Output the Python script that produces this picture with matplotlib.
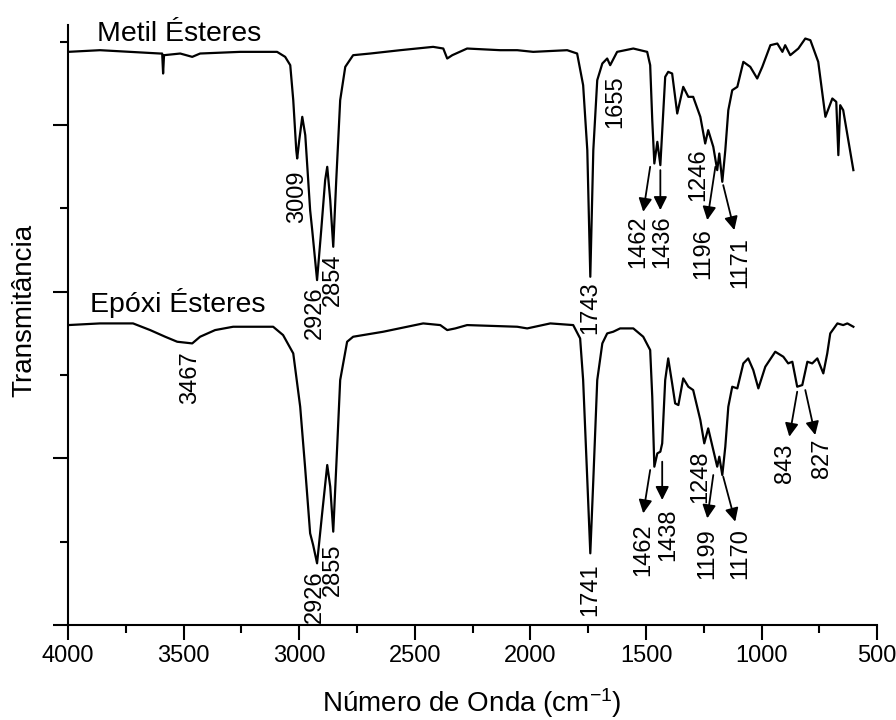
import numpy as np
import matplotlib
matplotlib.use('Agg')
import matplotlib.pyplot as plt

plt.rcParams['font.family'] = ['Liberation Sans', 'DejaVu Sans']
plt.rcParams['mathtext.default'] = 'regular'

# espectro metil ésteres (número de onda, transmitância)
metil_x = [4000, 3862, 3732, 3602, 3593, 3589, 3585, 3515, 3463, 3429, 3256, 3096, 3061,
           3039, 3026, 3013, 3009, 3000, 2987, 2974, 2953, 2944, 2923, 2905, 2888, 2879,
           2866, 2853, 2840, 2823, 2801, 2767, 2693, 2563, 2421, 2377, 2360, 2338, 2274,
           2131, 2057, 1988, 1841, 1798, 1772, 1754, 1741, 1728, 1711, 1689, 1668, 1655,
           1625, 1555, 1495, 1482, 1473, 1464, 1451, 1438, 1417, 1404, 1387, 1365, 1339,
           1317, 1296, 1265, 1244, 1231, 1209, 1192, 1183, 1170, 1157, 1144, 1127, 1105,
           1079, 1049, 1019, 997, 962, 932, 910, 898, 876, 841, 811, 789, 755, 724, 694,
           677, 668, 660, 647, 603]
metil_y = [3.44, 3.45, 3.44, 3.43, 3.43, 3.31, 3.42, 3.43, 3.41, 3.43, 3.44, 3.44, 3.41,
           3.36, 3.15, 2.85, 2.80, 2.91, 3.05, 2.94, 2.49, 2.37, 2.07, 2.37, 2.67, 2.75,
           2.55, 2.27, 2.67, 3.15, 3.35, 3.42, 3.43, 3.45, 3.47, 3.46, 3.40, 3.42, 3.46,
           3.45, 3.45, 3.44, 3.45, 3.43, 3.24, 2.85, 2.09, 2.85, 3.27, 3.37, 3.40, 3.36,
           3.44, 3.46, 3.44, 3.36, 3.03, 2.77, 2.90, 2.76, 3.29, 3.32, 3.31, 3.07, 3.23,
           3.17, 3.17, 3.05, 2.89, 2.97, 2.87, 2.73, 2.83, 2.66, 2.85, 3.09, 3.21, 3.23,
           3.38, 3.35, 3.28, 3.35, 3.48, 3.49, 3.44, 3.48, 3.42, 3.46, 3.52, 3.51, 3.38,
           3.05, 3.16, 3.14, 2.82, 3.12, 3.09, 2.73]

# espectro epóxi ésteres
epoxi_x = [4000, 3862, 3719, 3645, 3580, 3528, 3463, 3429, 3364, 3286, 3113, 3070, 3026,
           2996, 2975, 2953, 2940, 2923, 2901, 2879, 2866, 2853, 2836, 2823, 2793, 2767,
           2637, 2464, 2390, 2360, 2325, 2274, 2057, 2014, 1914, 1815, 1785, 1772, 1754,
           1741, 1728, 1711, 1689, 1668, 1642, 1612, 1555, 1512, 1482, 1473, 1464, 1451,
           1438, 1430, 1417, 1404, 1387, 1374, 1360, 1339, 1317, 1296, 1265, 1248, 1231,
           1209, 1192, 1183, 1170, 1157, 1144, 1127, 1105, 1079, 1058, 1036, 1014, 984,
           941, 906, 885, 867, 846, 824, 802, 781, 759, 733, 716, 703, 672, 647, 629, 603]
epoxi_y = [1.80, 1.81, 1.81, 1.77, 1.73, 1.70, 1.69, 1.73, 1.77, 1.79, 1.79, 1.74, 1.63,
           1.31, 0.95, 0.55, 0.48, 0.37, 0.67, 0.96, 0.83, 0.56, 1.07, 1.47, 1.70, 1.73,
           1.76, 1.81, 1.80, 1.77, 1.78, 1.80, 1.79, 1.78, 1.81, 1.80, 1.72, 1.47, 0.87,
           0.43, 0.87, 1.47, 1.69, 1.75, 1.76, 1.78, 1.78, 1.73, 1.65, 1.37, 0.95, 1.03,
           1.04, 1.09, 1.47, 1.60, 1.45, 1.33, 1.32, 1.48, 1.43, 1.41, 1.23, 1.09, 1.18,
           1.05, 0.95, 1.01, 0.90, 1.07, 1.31, 1.43, 1.42, 1.57, 1.60, 1.53, 1.42, 1.55,
           1.64, 1.61, 1.57, 1.58, 1.43, 1.44, 1.58, 1.57, 1.60, 1.51, 1.63, 1.75, 1.81,
           1.80, 1.81, 1.79]

# rótulos dos picos: texto, posição x, topo y
metil_labels = ['3009', '2926', '2854', '1743', '1655', '1462', '1436', '1246', '1196', '1171']
metil_lab_x = [3009, 2931, 2853, 1741, 1633, 1534, 1430, 1274, 1252, 1092]
metil_lab_y = [2.73, 2.03, 2.23, 2.06, 3.30, 2.46, 2.46, 2.86, 2.38, 2.33]

epoxi_labels = ['3467', '2926', '2855', '1741', '1462', '1438', '1248', '1199', '1170', '843', '827']
epoxi_lab_x = [3472, 2931, 2853, 1741, 1512, 1404, 1265, 1235, 1092, 898, 737]
epoxi_lab_y = [1.64, 0.33, 0.49, 0.37, 0.61, 0.70, 1.05, 0.58, 0.58, 1.09, 1.12]

# setas: (x0, y0, x1, y1)
setas = [(1482, 2.75, 1512, 2.48), (1438, 2.73, 1438, 2.49),
         (1200, 2.75, 1235, 2.43), (1166, 2.64, 1118, 2.37),
         (1482, 0.93, 1512, 0.67), (1430, 0.98, 1430, 0.75),
         (1209, 0.90, 1235, 0.64), (1166, 0.89, 1114, 0.62),
         (846, 1.40, 880, 1.13), (811, 1.41, 768, 1.14)]

fig = plt.figure(figsize=(8.96, 7.2), dpi=100)
ax = fig.add_axes([0.076, 0.132, 0.903, 0.833])

ax.plot(metil_x, metil_y, color='black', lw=1.6)
ax.plot(epoxi_x, epoxi_y, color='black', lw=1.6)

fs = 17
for t, x, y in zip(metil_labels + epoxi_labels, metil_lab_x + epoxi_lab_x,
                   metil_lab_y + epoxi_lab_y):
    ax.text(x, y, t, rotation=90, ha='center', va='top', fontsize=fs)

for x0, y0, x1, y1 in setas:
    ax.annotate('', xy=(x1, y1), xytext=(x0, y0),
                arrowprops=dict(arrowstyle='-|>', color='black', lw=1.3,
                                mutation_scale=20, shrinkA=0, shrinkB=0))

ax.text(3875, 3.55, 'Metil Ésteres', fontsize=20.5, va='center', ha='left')
ax.text(3905, 1.93, 'Epóxi Ésteres', fontsize=20.5, va='center', ha='left')

ax.set_xlim(4000, 500)
ax.set_ylim(0, 3.6)
ax.set_xticks(np.arange(4000, 499, -500))
ax.set_xticks(np.arange(3750, 500, -500), minor=True)
ax.set_yticks([0, 1, 2, 3])
ax.set_yticks([0.5, 1.5, 2.5, 3.5], minor=True)
ax.set_yticklabels([])
ax.tick_params(axis='both', which='major', length=11, width=1.5, labelsize=fs, direction='out')
ax.tick_params(axis='both', which='minor', length=6, width=1.5, direction='out')
for s in ['top', 'right']:
    ax.spines[s].set_visible(False)
for s in ['left', 'bottom']:
    ax.spines[s].set_linewidth(1.5)

fig.text(472 / 896, 1 - 703 / 720, 'Número de Onda (cm$^{-1}$)', fontsize=20,
         ha='center', va='center')
fig.text(24 / 896, 1 - 310 / 720, 'Transmitância', fontsize=20, rotation=90,
         ha='center', va='center')

fig.savefig('out.png', dpi=100)
